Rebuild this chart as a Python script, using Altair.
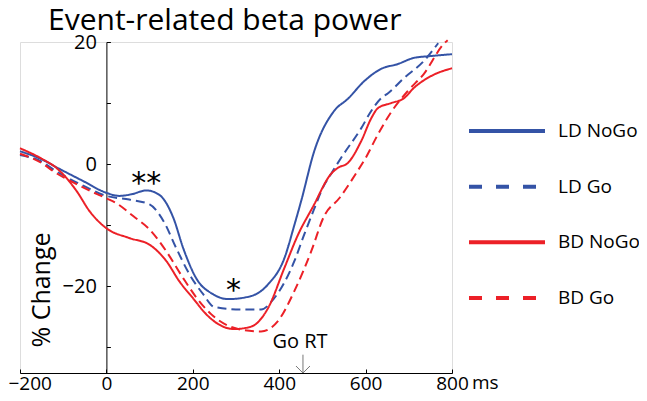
import altair as alt
import pandas as pd

FONT = "Open Sans"
series_names = ["LD NoGo", "LD Go", "BD NoGo", "BD Go"]
series_colors = ["#3453a6", "#3453a6", "#ec2027", "#ec2027"]

# time (ms) / % change values
ld_nogo_ms = [-200, -150, -116, -53, 0, 30, 60, 92, 122, 155, 178, 208, 247, 282, 335, 374, 412, 435, 451, 481, 527, 559, 597, 636, 675, 712, 751, 800]
ld_nogo_pct = [2.1, 0.8, -0.5, -2.8, -4.7, -5.2, -4.9, -4.3, -5.0, -8.8, -13.8, -18.7, -21.3, -22.1, -21.6, -19.7, -15.4, -10.0, -6.0, 2.1, 8.7, 10.7, 13.6, 15.6, 16.4, 17.4, 17.7, 18.0]

ld_go_ms = [-200, -150, -120, -60, 0, 53, 100, 132, 162, 192, 224, 250, 312, 358, 388, 435, 458, 480, 500, 520, 543, 590, 613, 636, 652, 689, 735, 768]
ld_go_pct = [1.5, 0.4, -1.0, -3.3, -5.2, -5.8, -6.6, -9.3, -13.8, -18.0, -21.3, -23.4, -23.8, -23.8, -22.0, -15.9, -11.5, -7.5, -4.0, -1.6, 1.0, 5.9, 8.7, 10.8, 11.6, 14.1, 16.9, 19.8]

bd_nogo_ms = [-200, -150, -116, -69, -39, 0, 53, 100, 139, 169, 201, 230, 259, 296, 335, 374, 412, 444, 478, 520, 536, 559, 590, 613, 629, 659, 689, 712, 751, 800]
bd_nogo_pct = [2.6, 0.9, -0.6, -4.4, -7.7, -10.5, -12.1, -13.2, -15.9, -19.2, -22.0, -24.5, -26.2, -27.0, -26.6, -23.6, -17.0, -11.5, -7.0, -1.6, -0.6, 0.2, 3.8, 7.5, 9.2, 10.0, 10.8, 12.5, 14.4, 15.7]

bd_go_ms = [-200, -150, -120, -77, -40, 0, 23, 62, 100, 139, 178, 210, 243, 305, 358, 397, 435, 474, 504, 540, 578, 600, 628, 660, 698, 735, 781, 790]
bd_go_pct = [1.7, 0.2, -1.3, -3.0, -4.3, -5.6, -6.4, -8.5, -10.7, -14.3, -18.7, -22.0, -24.6, -27.0, -27.4, -25.7, -20.8, -14.3, -8.5, -5.5, -1.5, 1.0, 4.8, 8.6, 12.0, 14.8, 19.7, 20.3]

x_ticks = [-200, 0, 200, 400, 600, 800]
y_ticks = [20, 10, 0, -10, -20, -30]
Y_MIN, Y_MAX = -34.2, 20

rows = []
for name, xs, ys in [("LD NoGo", ld_nogo_ms, ld_nogo_pct), ("LD Go", ld_go_ms, ld_go_pct),
                     ("BD NoGo", bd_nogo_ms, bd_nogo_pct), ("BD Go", bd_go_ms, bd_go_pct)]:
    for xv, yv in zip(xs, ys):
        rows.append({"series": name, "ms": xv, "pct": yv})
df = pd.DataFrame(rows)

W, H = 432, 331
x_scale = alt.Scale(domain=[-200, 800], nice=False, zero=False)
y_scale = alt.Scale(domain=[Y_MIN, Y_MAX], nice=False, zero=False)
color_scale = alt.Scale(domain=series_names, range=series_colors)

x_axis = alt.Axis(orient="top", offset=-H, values=x_ticks, tickSize=4, labelPadding=-5,
                  labelBaseline="top", labelFontSize=19, labelFont=FONT, labelColor="black",
                  domainColor="black", tickColor="black", grid=False, title=None,
                  labelAlign={"condition": {"test": "datum.value === -200", "value": "left"}, "value": "center"},
                  labelOffset={"condition": {"test": "datum.value === -200", "value": -12}, "value": 0})
y_axis = alt.Axis(orient="right", offset=-(W - W * 200 / 1000), values=y_ticks, tickSize=4,
                  labelPadding=-14, labelAlign="right", labelBaseline="middle",
                  labelExpr="abs(datum.value) % 20 === 0 ? datum.label : ''",
                  labelFontSize=20, labelFont=FONT, labelColor="black",
                  domainColor="black", tickColor="black", grid=False, title=None)

lines = alt.Chart(df).mark_line(strokeWidth=2, interpolate="monotone", clip=False).encode(
    x=alt.X("ms:Q", scale=x_scale, axis=x_axis),
    y=alt.Y("pct:Q", scale=y_scale, axis=y_axis),
    color=alt.Color("series:N", scale=color_scale, legend=None),
    strokeDash=alt.StrokeDash("series:N", scale=alt.Scale(domain=series_names, range=[[1, 0], [9, 5], [1, 0], [9, 5]]), legend=None),
)

leg_df = pd.DataFrame({"series": series_names})
leg_y = alt.Y("series:N", scale=alt.Scale(type="point", domain=series_names, range=[89, 256], padding=0), axis=None)
leg_rules = alt.Chart(leg_df).mark_rule(strokeWidth=4).encode(
    x=alt.value(449), x2=alt.value(525), y=leg_y,
    color=alt.Color("series:N", scale=color_scale, legend=None),
    strokeDash=alt.StrokeDash("series:N", scale=alt.Scale(domain=series_names, range=[[1, 0], [13, 14], [1, 0], [13, 14]]), legend=None),
)
leg_text = alt.Chart(leg_df).mark_text(align="left", baseline="middle", fontSize=19, font=FONT, color="black").encode(
    x=alt.value(538), y=leg_y, text="series:N")

title = alt.Chart(pd.DataFrame({"t": ["Event-related beta power"]})).mark_text(
    align="left", baseline="alphabetic", fontSize=30, font=FONT, color="black").encode(
    x=alt.value(28), y=alt.value(-12), text="t:N")

ytitle = alt.Chart(pd.DataFrame({"t": ["% Change"]})).mark_text(
    align="center", baseline="middle", angle=270, fontSize=25, font=FONT, color="black").encode(
    x=alt.value(22), y=alt.value(248), text="t:N")

ms_text = alt.Chart(pd.DataFrame({"t": ["ms"], "ms": [800]})).mark_text(
    align="left", baseline="top", fontSize=19, font=FONT, color="black", dx=20).encode(
    x=alt.X("ms:Q", scale=x_scale), y=alt.value(H + 1), text="t:N")

star_df = pd.DataFrame({"t": ["**", "*"], "ms": [92, 294], "pct": [-4.75, -22.3]})
stars = alt.Chart(star_df).mark_text(align="center", baseline="alphabetic", fontSize=30,
                                     font="DejaVu Sans", color="black").encode(
    x=alt.X("ms:Q", scale=x_scale), y=alt.Y("pct:Q", scale=y_scale, axis=None), text="t:N")

gort_df = pd.DataFrame({"t": ["Go RT"], "ms": [455], "top": [-31.2], "bot": [Y_MIN]})
gort_text = alt.Chart(gort_df).mark_text(align="center", baseline="alphabetic", fontSize=20, font=FONT,
                                         color="black", dx=-3).encode(
    x=alt.X("ms:Q", scale=x_scale), y=alt.value(306), text="t:N")
gort_rule = alt.Chart(gort_df).mark_rule(color="#777777", strokeWidth=1).encode(
    x=alt.X("ms:Q", scale=x_scale), y=alt.Y("top:Q", scale=y_scale, axis=None), y2="bot:Q")
gort_head = alt.Chart(gort_df).mark_point(shape="M-1,-1L0,0L1,-1", size=196, filled=False,
                                          color="#777777", strokeWidth=1, opacity=1).encode(
    x=alt.X("ms:Q", scale=x_scale), y=alt.Y("bot:Q", scale=y_scale, axis=None))

chart = alt.layer(lines, gort_rule, gort_head, gort_text, stars, ms_text, title, ytitle,
                  leg_rules, leg_text).resolve_scale(
    y="independent", strokeDash="independent"
).properties(
    width=W, height=H, autosize=alt.AutoSizeParams(type="none"),
    padding={"left": 12, "top": 34, "right": 187, "bottom": 385 - 34 - H},
).configure_view(stroke=None).configure(background="white")

chart.save("out.html", embed_options={"renderer": "svg", "actions": False})
